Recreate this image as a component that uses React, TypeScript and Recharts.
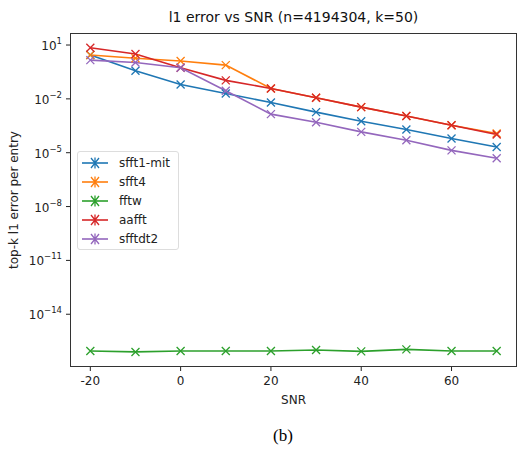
import { LineChart, Line, XAxis, YAxis } from "recharts";

// SNR values (x axis)
const snr = [-20, -10, 0, 10, 20, 30, 40, 50, 60, 70];

// log10 of error
const sfft1Mit = [0.44, -0.43, -1.2, -1.7, -2.2, -2.74, -3.25, -3.71, -4.21, -4.68];
const sfft4 = [0.44, 0.26, 0.11, -0.12, -1.42, -1.94, -2.46, -2.95, -3.47, -3.93];
const fftw = [-16.05, -16.1, -16.05, -16.05, -16.05, -15.99, -16.07, -15.96, -16.05, -16.05];
const aafft = [0.85, 0.5, -0.27, -0.97, -1.42, -1.94, -2.46, -2.95, -3.47, -3.99];
const sfftdt2 = [0.16, 0.03, -0.27, -1.55, -2.85, -3.3, -3.84, -4.31, -4.87, -5.31];

const yTicks = [1, -2, -5, -8, -11, -14];
const xTicks = [-20, 0, 20, 40, 60];

const series = [
  { key: "sfft1-mit", values: sfft1Mit, color: "#1f77b4" },
  { key: "sfft4", values: sfft4, color: "#ff7f0e" },
  { key: "fftw", values: fftw, color: "#2ca02c" },
  { key: "aafft", values: aafft, color: "#d62728" },
  { key: "sfftdt2", values: sfftdt2, color: "#9467bd" },
];

const chartData = snr.map((x, i) => {
  const row: Record<string, number> = { snr: x };
  series.forEach((s) => {
    row[s.key] = Math.pow(10, s.values[i]);
  });
  return row;
});

const FONT = "DejaVu Sans, sans-serif";

const XMark = (props: any) => {
  const { cx, cy, stroke } = props;
  if (cx == null || cy == null) return null;
  const r = 4;
  return (
    <path
      d={`M${cx - r},${cy - r}L${cx + r},${cy + r}M${cx - r},${cy + r}L${cx + r},${cy - r}`}
      stroke={stroke}
      strokeWidth={1.3}
      fill="none"
    />
  );
};

const YTick = (props: any) => {
  const { x, y, payload } = props;
  const exp = Math.round(Math.log10(payload.value));
  const label = exp < 0 ? `\u2212${-exp}` : `${exp}`;
  return (
    <text x={x} y={y} textAnchor="end" fill="#222" fontSize={12} fontFamily={FONT} dy={5}>
      <tspan>10</tspan>
      <tspan dy={-6} fontSize={8.5}>
        {label}
      </tspan>
    </text>
  );
};

const LegendBox = () => (
  <div
    style={{
      position: "absolute",
      left: 77,
      top: 151,
      border: "1px solid #ddd",
      borderRadius: 3,
      background: "rgba(255,255,255,0.8)",
      padding: "1px 8px 1px 2px",
      fontFamily: FONT,
      fontSize: 12,
      color: "#222",
    }}
  >
    {series.map((s) => (
      <div key={s.key} style={{ display: "flex", alignItems: "center", height: 19 }}>
        <svg width={30} height={14}>
          <line x1={2} y1={7} x2={28} y2={7} stroke={s.color} strokeWidth={1.6} />
          <path d="M11,2L19,12M11,12L19,2M15,1.5L15,12.5" stroke={s.color} strokeWidth={1.3} />
        </svg>
        <span style={{ marginLeft: 9 }}>{s.key}</span>
      </div>
    ))}
  </div>
);

const App = () => {
  return (
    <div style={{ position: "absolute", left: 0, top: 0, width: 518, height: 450, background: "#fff" }}>
      <div
        style={{
          position: "absolute",
          left: 70,
          width: 447,
          top: 9,
          textAlign: "center",
          fontFamily: FONT,
          fontSize: 14,
          color: "#111",
        }}
      >
        l1 error vs SNR (n=4194304, k=50)
      </div>
      <LineChart
        width={518}
        height={450}
        data={chartData}
        margin={{ top: 33, right: 1, bottom: 53, left: 0 }}
      >
        <XAxis
          dataKey="snr"
          type="number"
          domain={[-24.5, 74.5]}
          ticks={xTicks}
          height={30}
          axisLine={false}
          tickLine={{ stroke: "#222" }}
          tickSize={4}
          tickMargin={5}
          tick={{ fontSize: 12, fill: "#222", fontFamily: FONT }}
          allowDataOverflow
          label={{ value: "SNR", position: "insideBottom", offset: 0, dy: 7, fontSize: 12, fill: "#222", fontFamily: FONT }}
        />
        <YAxis
          scale="log"
          type="number"
          domain={[Math.pow(10, -16.94), Math.pow(10, 1.67)]}
          ticks={yTicks.map((e) => Math.pow(10, e))}
          width={70}
          axisLine={false}
          tickLine={{ stroke: "#222" }}
          tickSize={4}
          tickMargin={4}
          tick={<YTick />}
          allowDataOverflow
          label={{
            value: "top-k l1 error per entry",
            angle: -90,
            position: "insideLeft",
            offset: 14,
            fontSize: 12,
            fill: "#222",
            fontFamily: FONT,
            style: { textAnchor: "middle" },
          }}
        />
        {series.map((s) => (
          <Line
            key={s.key}
            dataKey={s.key}
            name={s.key}
            type="linear"
            stroke={s.color}
            strokeWidth={1.6}
            dot={<XMark stroke={s.color} />}
            activeDot={false}
            isAnimationActive={false}
          />
        ))}
      </LineChart>
      <div
        style={{
          position: "absolute",
          left: 70,
          top: 33,
          width: 447,
          height: 334,
          boxSizing: "border-box",
          border: "1px solid #333",
          pointerEvents: "none",
        }}
      />
      <LegendBox />
      <div
        style={{
          position: "absolute",
          left: 0,
          width: 566,
          top: 426,
          textAlign: "center",
          fontFamily: "Liberation Serif, serif",
          fontSize: 17,
          color: "#000",
        }}
      >
        (b)
      </div>
    </div>
  );
};

export default App;
